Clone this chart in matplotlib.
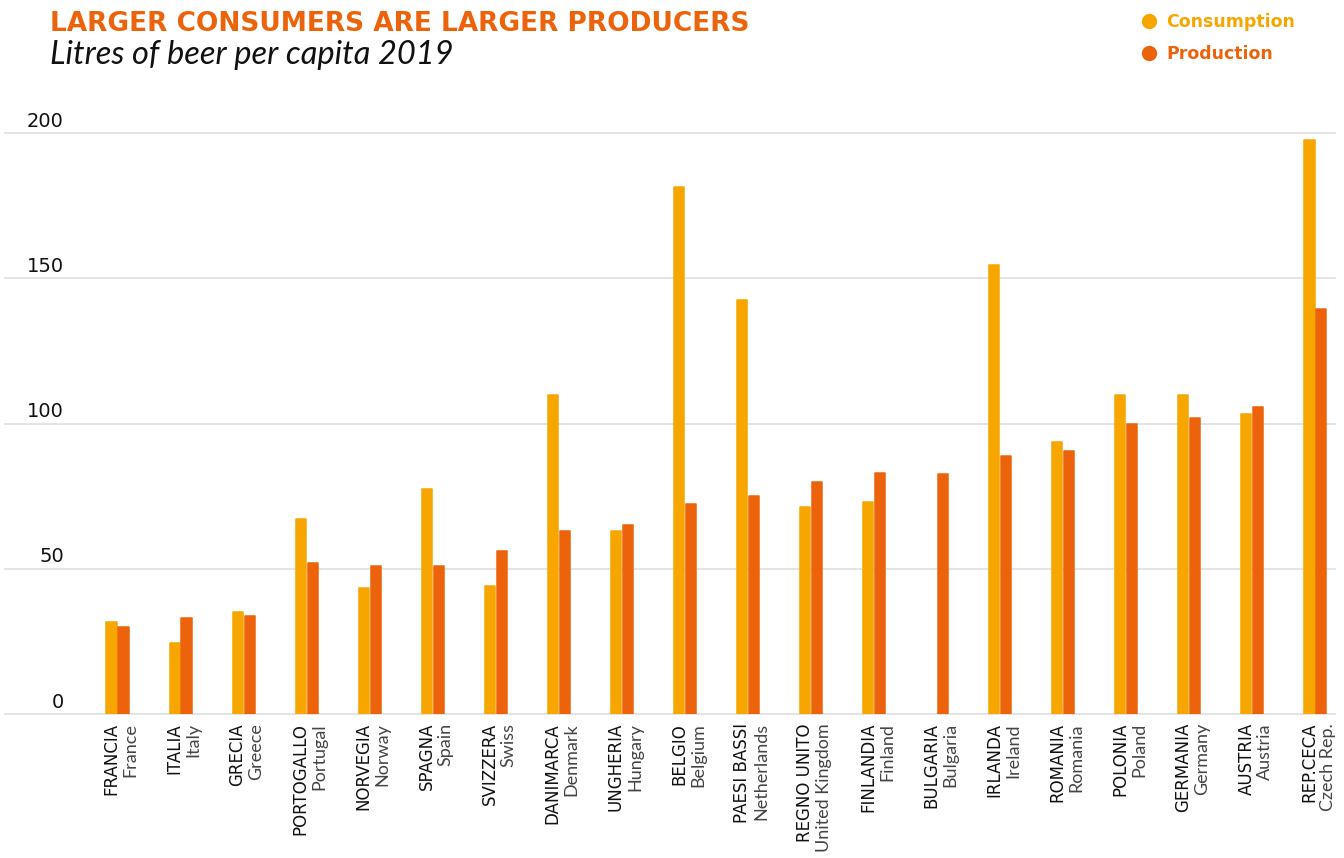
import numpy as np
import matplotlib.pyplot as plt
from matplotlib.lines import Line2D

# litres of beer per capita, 2019
countries_it = ['FRANCIA', 'ITALIA', 'GRECIA', 'PORTOGALLO', 'NORVEGIA', 'SPAGNA',
                'SVIZZERA', 'DANIMARCA', 'UNGHERIA', 'BELGIO', 'PAESI BASSI',
                'REGNO UNITO', 'FINLANDIA', 'BULGARIA', 'IRLANDA', 'ROMANIA',
                'POLONIA', 'GERMANIA', 'AUSTRIA', 'REP.CECA']
countries_en = ['France', 'Italy', 'Greece', 'Portugal', 'Norway', 'Spain',
                'Swiss', 'Denmark', 'Hungary', 'Belgium', 'Netherlands',
                'United Kingdom', 'Finland', 'Bulgaria', 'Ireland', 'Romania',
                'Poland', 'Germany', 'Austria', 'Czech Rep.']
# Bulgaria has no consumption bar in the chart
consumption = [31.7, 24.3, 35.0, 67.2, 43.4, 77.5, 44.2, 109.8, 63.0, 181.5,
               142.5, 71.1, 72.9, np.nan, 154.6, 93.7, 109.7, 109.7, 103.3, 197.5]
production = [30.0, 33.0, 33.8, 51.9, 50.8, 50.8, 56.1, 63.0, 65.0, 72.2,
              75.0, 79.9, 82.8, 82.7, 88.7, 90.5, 99.9, 101.9, 105.8, 139.4]
y_ticks = [0, 50, 100, 150, 200]

c_cons = '#F7A600'
c_prod = '#EC630B'

fig = plt.figure(figsize=(13.44, 8.58), dpi=100)
W, H = 1344, 858
ax = fig.add_axes([5 / W, 144 / H, 1330 / W, 581 / H])

x = np.arange(len(countries_it))
ax.bar(x - 0.095, consumption, width=0.16, color=c_cons, zorder=3,
       edgecolor=c_cons, linewidth=1.1, joinstyle='round')
ax.bar(x + 0.095, production, width=0.16, color=c_prod, zorder=3,
       edgecolor=c_prod, linewidth=1.1, joinstyle='round')

ax.set_xlim(-1.784, 19.31)
ax.set_ylim(0, 200)
for s in ax.spines.values():
    s.set_visible(False)
ax.set_xticks([])
ax.set_yticks([])

for t in y_ticks:
    ax.axhline(t, color='#e2e2e2', lw=1.3, zorder=1, clip_on=False)
    ax.annotate(str(t), xy=(59 / 1330, t), xycoords=('axes fraction', 'data'),
                xytext=(0, 4.5), textcoords='offset points', ha='right',
                va='baseline', fontsize=14, family='DejaVu Sans', color='#111111')

# two-line rotated category labels
for i in x:
    ax.annotate(countries_it[i], xy=(i, 0), xycoords='data',
                xytext=(-1, -9), textcoords='offset pixels',
                rotation=90, rotation_mode='anchor', ha='right', va='baseline',
                fontsize=12, family='DejaVu Sans', color='#111111')
    ax.annotate(countries_en[i], xy=(i, 0), xycoords='data',
                xytext=(18, -9), textcoords='offset pixels',
                rotation=90, rotation_mode='anchor', ha='right', va='baseline',
                fontsize=13, family='Lato', color='#444444')

# title block
fig.text(50 / W, 1 - 31 / H, 'LARGER CONSUMERS ARE LARGER PRODUCERS',
         fontsize=19, weight='bold', family='DejaVu Sans', color=c_prod,
         va='baseline')
fig.text(50 / W, 1 - 64 / H, 'Litres of beer per capita 2019',
         fontsize=23.5, style='italic', family='Lato',
         color='#111111', va='baseline')

# legend
for label, col, yy in [('Consumption', c_cons, 21), ('Production', c_prod, 53)]:
    fig.add_artist(Line2D([1149 / W], [1 - yy / H], marker='o', markersize=10,
                          color=col, transform=fig.transFigure))
    fig.text(1166 / W, 1 - (yy + 6) / H, label, fontsize=12.5, weight='bold',
             family='DejaVu Sans', color=col, va='baseline')

fig.savefig('out.png', dpi=100)
